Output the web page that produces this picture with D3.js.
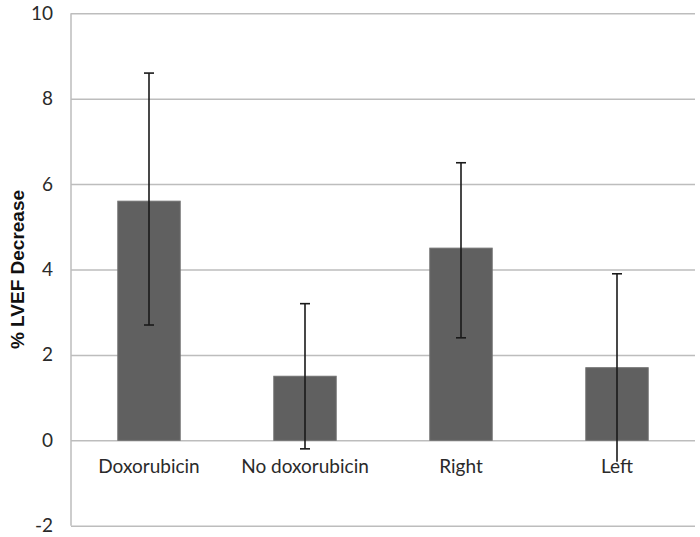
<!DOCTYPE html>
<html><head><meta charset="utf-8">
<script src="https://cdn.jsdelivr.net/npm/d3@7"></script>
<style>body{margin:0;background:#fff}svg{display:block}</style>
</head><body>
<script>
const categories = ["Doxorubicin", "No doxorubicin", "Right", "Left"];
const values = [5.6, 1.5, 4.5, 1.7];
const errLow = [2.7, -0.2, 2.4, -0.5];
const errHigh = [8.6, 3.2, 6.5, 3.9];
const lowCapShown = [true, true, true, false];
const yTicks = [-2, 0, 2, 4, 6, 8, 10];
const yTickLabels = ["-2", "0", "2", "4", "6", "8", "10"];
const yTitle = "% LVEF Decrease";

const W = 700, H = 537;
const m = {left: 71, right: 5, top: 13.3, bottom: 11.3};
const svg = d3.select("body").append("svg").attr("width", W).attr("height", H);

const x = d3.scaleBand().domain(categories).range([m.left, W - m.right]).paddingInner(0.6).paddingOuter(0.3);
const y = d3.scaleLinear().domain([-2, 10]).range([H - m.bottom, m.top]);

// gridlines
const yAxis = d3.axisLeft(y).tickValues(yTicks).tickSize(-(W - m.right - m.left)).tickPadding(18)
  .tickFormat((d, i) => yTickLabels[i]);
const ga = svg.append("g").attr("transform", `translate(${m.left},0)`).call(yAxis);
ga.select(".domain").remove();
ga.selectAll(".tick line").attr("stroke", "#bdbdbd").attr("stroke-width", 1.5);
ga.selectAll(".tick text").attr("font-family", "Lato, 'Open Sans', sans-serif").attr("font-size", 19).attr("fill", "#2a2a2a");

// left axis line
svg.append("line").attr("x1", m.left).attr("x2", m.left).attr("y1", y(10)).attr("y2", y(-2))
  .attr("stroke", "#bdbdbd").attr("stroke-width", 1.5);

// bars
svg.append("g").selectAll("rect").data(categories).join("rect")
  .attr("x", d => x(d)).attr("width", x.bandwidth())
  .attr("y", (d, i) => y(Math.max(0, values[i])))
  .attr("height", (d, i) => Math.abs(y(values[i]) - y(0)))
  .attr("fill", "#606060").attr("stroke", "#707070").attr("stroke-width", 1);

// category labels
svg.append("g").selectAll("text").data(categories).join("text")
  .attr("x", d => x(d) + x.bandwidth() / 2).attr("y", y(0) + 33)
  .attr("text-anchor", "middle")
  .attr("font-family", "Lato, 'Open Sans', sans-serif").attr("font-size", 19).attr("fill", "#2a2a2a")
  .text(d => d);

// error bars
const eb = svg.append("g").attr("stroke", "#1a1a1a").attr("stroke-width", 1.6);
categories.forEach((c, i) => {
  const cx = x(c) + x.bandwidth() / 2;
  eb.append("line").attr("x1", cx).attr("x2", cx).attr("y1", y(errLow[i])).attr("y2", y(errHigh[i]));
  eb.append("line").attr("x1", cx - 5).attr("x2", cx + 5).attr("y1", y(errHigh[i])).attr("y2", y(errHigh[i]));
  if (lowCapShown[i]) eb.append("line").attr("x1", cx - 5).attr("x2", cx + 5).attr("y1", y(errLow[i])).attr("y2", y(errLow[i]));
});

// y title
svg.append("text").attr("transform", `translate(24,${(y(10) + y(-2)) / 2}) rotate(-90)`)
  .attr("text-anchor", "middle").attr("font-family", "'Liberation Sans', Arial, sans-serif")
  .attr("font-weight", "bold").attr("font-size", 19).attr("fill", "#111").text(yTitle);
</script>
</body></html>
